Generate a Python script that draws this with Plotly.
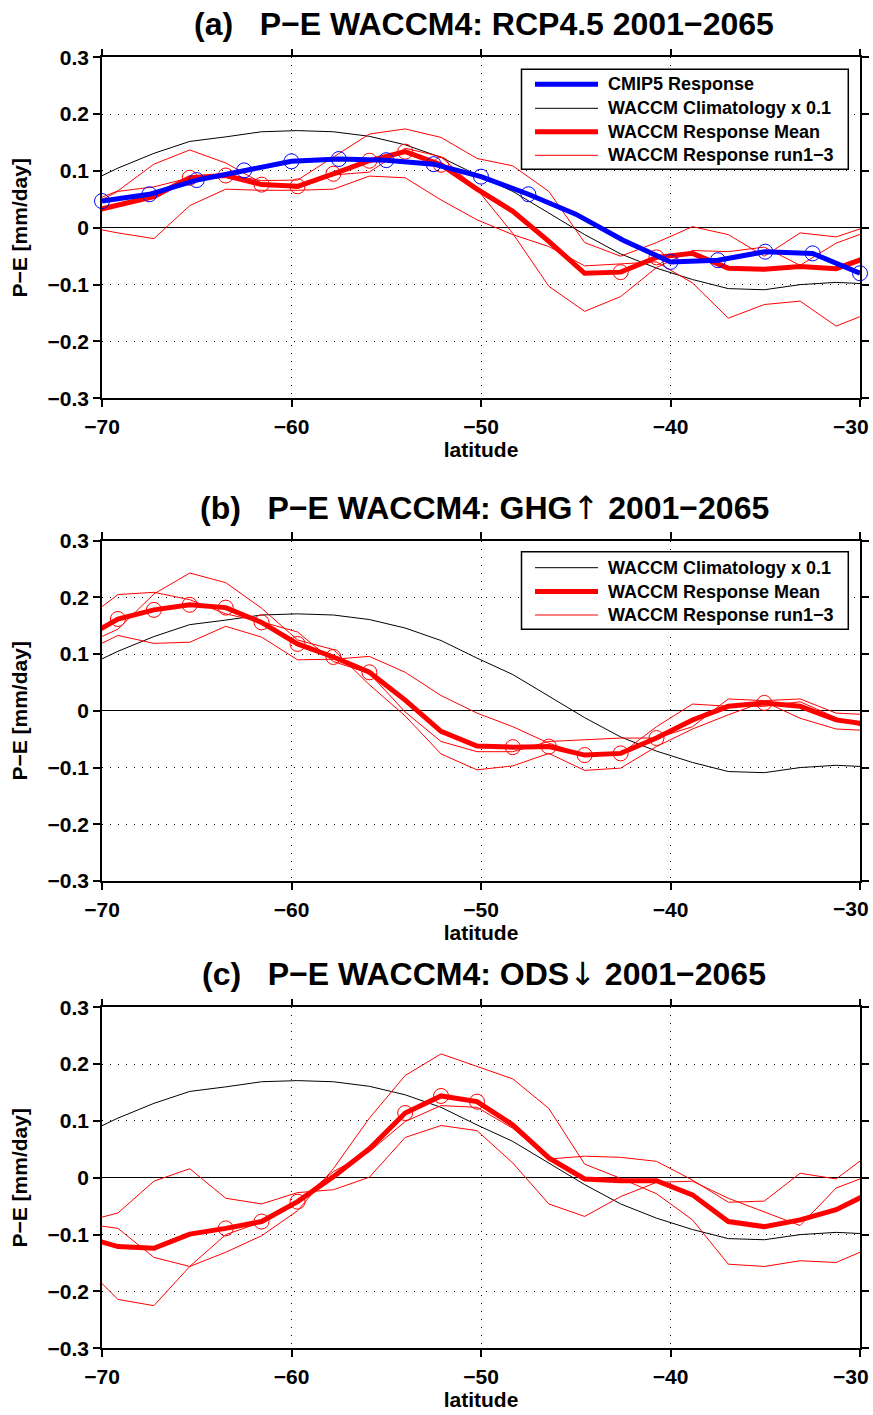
import plotly.graph_objects as go

# ---------------- data ----------------
lat = [-71.05, -69.16, -67.26, -65.37, -63.47, -61.58, -59.68, -57.79, -55.89, -54.00,
       -52.11, -50.21, -48.32, -46.42, -44.53, -42.63, -40.74, -38.84, -36.95, -35.05,
       -33.16, -31.26, -29.37]

clim = [0.075, 0.105, 0.131, 0.152, 0.160, 0.169, 0.171, 0.169, 0.161, 0.146,
        0.124, 0.093, 0.064, 0.026, -0.012, -0.046, -0.071, -0.091, -0.107, -0.109,
        -0.100, -0.096, -0.099]

cmip_lat = [-70, -67.5, -65, -62.5, -60, -57.5, -55, -52.5, -50, -47.5,
            -45, -42.5, -40, -37.5, -35, -32.5, -30]
cmip = [0.047, 0.059, 0.084, 0.101, 0.117, 0.121, 0.119, 0.112, 0.090, 0.059,
        0.024, -0.022, -0.060, -0.057, -0.042, -0.045, -0.080]
cmip_sig = [0, 1, 2, 3, 4, 5, 6, 7, 8, 9, 12, 13, 14, 15, 16]

# (a) RCP4.5
mean_a = [0.025, 0.040, 0.055, 0.088, 0.092, 0.076, 0.073, 0.095, 0.118, 0.134,
          0.111, 0.068, 0.029, -0.024, -0.080, -0.078, -0.052, -0.045, -0.071, -0.073,
          -0.068, -0.072, -0.049]
run1_a = [0.040, 0.065, 0.112, 0.137, 0.114, 0.079, 0.069, 0.093, 0.098, 0.140,
          0.125, 0.068, -0.010, -0.103, -0.147, -0.121, -0.070, -0.040, -0.042, -0.034,
          -0.066, -0.027, -0.004]
run2_a = [0.003, -0.009, -0.019, 0.039, 0.068, 0.066, 0.066, 0.068, 0.091, 0.088,
          0.049, 0.014, -0.012, -0.033, -0.067, -0.063, -0.060, -0.097, -0.159, -0.135,
          -0.129, -0.173, -0.148]
run3_a = [0.032, 0.064, 0.072, 0.088, 0.094, 0.083, 0.084, 0.124, 0.165, 0.174,
          0.159, 0.122, 0.109, 0.064, -0.026, -0.050, -0.026, 0.002, -0.012, -0.050,
          -0.009, -0.016, 0.005]
sig_a = [3, 4, 5, 6, 7, 8, 9, 10, 15, 16]

# (b) GHG
mean_b = [0.126, 0.162, 0.178, 0.187, 0.182, 0.156, 0.118, 0.095, 0.068, 0.019,
          -0.036, -0.062, -0.064, -0.063, -0.078, -0.075, -0.048, -0.016, 0.008, 0.014,
          0.008, -0.016, -0.025]
run1_b = [0.157, 0.205, 0.209, 0.196, 0.171, 0.157, 0.139, 0.087, 0.066, -0.002,
          -0.054, -0.072, -0.072, -0.054, -0.051, -0.048, -0.048, -0.028, 0.021, 0.018,
          0.021, -0.004, -0.007]
run2_b = [0.115, 0.144, 0.206, 0.243, 0.226, 0.181, 0.125, 0.108, 0.046, -0.009,
          -0.076, -0.104, -0.097, -0.075, -0.105, -0.101, -0.063, -0.032, -0.007, 0.016,
          -0.013, -0.032, -0.035]
run3_b = [0.102, 0.133, 0.119, 0.121, 0.149, 0.130, 0.090, 0.091, 0.096, 0.068,
          0.027, -0.004, -0.028, -0.057, -0.078, -0.076, -0.028, 0.012, 0.008, 0.008,
          0.016, -0.012, -0.033]
sig_b = [1, 2, 3, 4, 5, 6, 7, 8, 12, 13, 14, 15, 16, 19]

# (c) ODS
mean_c = [-0.103, -0.121, -0.124, -0.099, -0.089, -0.077, -0.042, 0.002, 0.051, 0.114,
          0.144, 0.134, 0.093, 0.035, -0.002, -0.005, -0.005, -0.030, -0.077, -0.086,
          -0.074, -0.056, -0.025]
run1_c = [-0.078, -0.062, -0.006, 0.016, -0.036, -0.046, -0.026, -0.021, 0.001, 0.071,
          0.092, 0.083, 0.026, -0.046, -0.068, -0.033, -0.008, -0.006, -0.036, -0.060,
          -0.084, -0.018, 0.006]
run2_c = [-0.080, -0.089, -0.140, -0.156, -0.131, -0.102, -0.058, 0.016, 0.105, 0.180,
          0.218, 0.196, 0.174, 0.122, 0.024, -0.001, -0.028, -0.074, -0.152, -0.156,
          -0.146, -0.149, -0.122]
run3_c = [-0.151, -0.214, -0.225, -0.156, -0.100, -0.078, -0.042, 0.011, 0.046, 0.099,
          0.127, 0.124, 0.087, 0.033, 0.038, 0.036, 0.029, -0.004, -0.043, -0.041,
          0.008, -0.002, 0.045]
sig_c = [4, 5, 6, 9, 10, 11]

ARROW = '<span style="font-family:DejaVu Sans;font-weight:normal">{}</span>'
titles = ["(a)\u00a0\u00a0\u00a0P\u2212E WACCM4: RCP4.5 2001\u22122065",
          "(b)\u00a0\u00a0\u00a0P\u2212E WACCM4: GHG" + ARROW.format("\u2191") + " 2001\u22122065",
          "(c)\u00a0\u00a0\u00a0P\u2212E WACCM4: ODS" + ARROW.format("\u2193") + " 2001\u22122065"]
xticks = [-70, -60, -50, -40, -30]
xticklabels = ["\u221270", "\u221260", "\u221250", "\u221240", "\u221230"]
yticks = [-0.3, -0.2, -0.1, 0, 0.1, 0.2, 0.3]
yticklabels = ["\u22120.3", "\u22120.2", "\u22120.1", "0", "0.1", "0.2", "0.3"]
legend_a = ["CMIP5 Response", "WACCM Climatology x 0.1", "WACCM Response Mean", "WACCM Response run1\u22123"]
legend_b = ["WACCM Climatology x 0.1", "WACCM Response Mean", "WACCM Response run1\u22123"]

# ---------------- layout geometry (page pixels) ----------------
W, H = 873, 1415
FONT = "Liberation Sans, Arial, Helvetica, sans-serif"
px_left, px_right = 102, 860
panels_px = [(57.3, 398.3), (540.7, 881.0), (1007.3, 1348.3)]

def fx(px):
    return px / W

def fy(py):
    return 1 - py / H

fig = go.Figure()

panels = [
    (mean_a, [run1_a, run2_a, run3_a], sig_a, True),
    (mean_b, [run1_b, run2_b, run3_b], sig_b, False),
    (mean_c, [run1_c, run2_c, run3_c], sig_c, False),
]

for i, (mean, runs, sig, has_cmip) in enumerate(panels):
    sfx = "" if i == 0 else str(i + 1)
    xa, ya = "x" + sfx, "y" + sfx
    fig.add_trace(go.Scatter(x=lat, y=clim, mode="lines", line=dict(color="black", width=1),
                             xaxis=xa, yaxis=ya, showlegend=False, name="WACCM Climatology x 0.1"))
    for r in runs:
        fig.add_trace(go.Scatter(x=lat, y=r, mode="lines", line=dict(color="#ff0000", width=1),
                                 xaxis=xa, yaxis=ya, showlegend=False, name="WACCM Response run1-3"))
    fig.add_trace(go.Scatter(x=lat, y=mean, mode="lines", line=dict(color="#ff0000", width=5),
                             xaxis=xa, yaxis=ya, showlegend=False, name="WACCM Response Mean"))
    fig.add_trace(go.Scatter(x=[lat[k] for k in sig], y=[mean[k] for k in sig], mode="markers",
                             marker=dict(symbol="circle-open", size=15, color="#ff0000",
                                         line=dict(width=1, color="#ff0000")),
                             cliponaxis=False, xaxis=xa, yaxis=ya, showlegend=False))
    if has_cmip:
        fig.add_trace(go.Scatter(x=cmip_lat, y=cmip, mode="lines", line=dict(color="#0000ff", width=5),
                                 xaxis=xa, yaxis=ya, showlegend=False, name="CMIP5 Response"))
        fig.add_trace(go.Scatter(x=[cmip_lat[k] for k in cmip_sig], y=[cmip[k] for k in cmip_sig],
                                 mode="markers",
                                 marker=dict(symbol="circle-open", size=15, color="#0000ff",
                                             line=dict(width=1, color="#0000ff")),
                                 cliponaxis=False, xaxis=xa, yaxis=ya, showlegend=False))

TICKFONT = dict(family=FONT, size=21, color="black", weight="bold")
axis_common = dict(
    showline=True, linecolor="black", linewidth=1.5, mirror="ticks",
    ticks="outside", ticklen=7, tickwidth=1.5, tickcolor="black",
    showgrid=True, gridcolor="black", gridwidth=1, griddash="1px,7px",
    tickfont=TICKFONT, automargin=False,
)

layout = dict(
    width=W, height=H, margin=dict(l=0, r=0, t=0, b=0),
    paper_bgcolor="white", plot_bgcolor="white", showlegend=False,
    font=dict(family=FONT, color="black"),
)

annotations = []
shapes = []
for i, (top, bot) in enumerate(panels_px):
    sfx = "" if i == 0 else str(i + 1)
    # last x tick label sits at the page edge: it is drawn right-aligned at its tick instead
    layout["xaxis" + sfx] = dict(
        axis_common, domain=[fx(px_left), fx(px_right)], range=[-70, -30],
        tickvals=xticks, ticktext=xticklabels[:-1] + [""], anchor="y" + sfx, zeroline=False,
        ticklabelstandoff=2,
        title=dict(text="latitude", font=dict(family=FONT, size=21, color="black", weight="bold"),
                   standoff=4),
    )
    annotations.append(dict(
        text=xticklabels[-1], xref="x" + sfx, yref="paper", x=xticks[-1], y=fy(bot + 27.7),
        xanchor="right", yanchor="middle", xshift=11, showarrow=False, font=TICKFONT,
    ))
    layout["yaxis" + sfx] = dict(
        axis_common, domain=[fy(bot), fy(top)], range=[-0.3, 0.3],
        tickvals=yticks, ticktext=yticklabels, anchor="x" + sfx,
        zeroline=True, zerolinecolor="black", zerolinewidth=1,
        title=dict(text="P\u2212E [mm/day]", font=dict(family=FONT, size=21, color="black", weight="bold"),
                   standoff=14),
    )
    annotations.append(dict(
        text=titles[i], xref="paper", yref="paper", x=fx((px_left + px_right) / 2 + 3),
        y=fy(top - 33), xanchor="center", yanchor="middle", showarrow=False,
        font=dict(family=FONT, size=32, color="black", weight="bold"),
    ))

def add_legend(box, rows, labels, styles):
    x0, y0, x1, y1 = box
    shapes.append(dict(type="rect", xref="paper", yref="paper", x0=fx(x0), x1=fx(x1),
                       y0=fy(y1), y1=fy(y0), fillcolor="white",
                       line=dict(color="black", width=1.5), layer="above"))
    for ry, lab, (col, wd) in zip(rows, labels, styles):
        shapes.append(dict(type="line", xref="paper", yref="paper", x0=fx(535), x1=fx(598),
                           y0=fy(ry), y1=fy(ry), line=dict(color=col, width=wd), layer="above"))
        annotations.append(dict(text=lab, xref="paper", yref="paper", x=fx(606), y=fy(ry),
                                xanchor="left", yanchor="middle", showarrow=False,
                                font=dict(family=FONT, size=18, color="black", weight="bold")))

add_legend((521.5, 69.3, 848.3, 169.3), [84.3, 108.3, 131.8, 155.3], legend_a,
           [("#0000ff", 5), ("black", 1), ("#ff0000", 5), ("#ff0000", 1)])
add_legend((521.5, 551.7, 848.3, 629.3), [567.7, 591.5, 615.0], legend_b,
           [("black", 1), ("#ff0000", 5), ("#ff0000", 1)])

layout["annotations"] = annotations
layout["shapes"] = shapes
fig.update_layout(**layout)

# the page's default 8px body margin would shift the figure; remove it
fig.write_html("out.html", config={"displayModeBar": False},
               post_script="document.body.style.margin='0';")
